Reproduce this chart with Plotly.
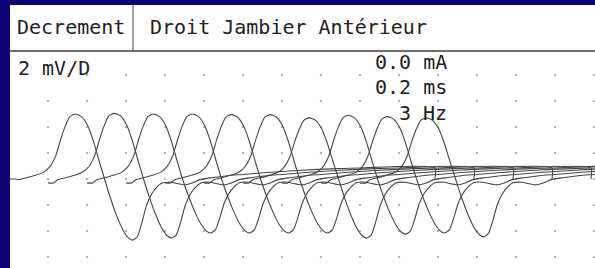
import plotly.graph_objects as go

# ---------------- data ----------------
# Units: x in divisions (sweep time), y in mV (2 mV per division)
# Shared CMAP waveform shape (relative to each sweep's onset)
TEMPLATE_T = [0.00, 0.15, 0.25, 0.45, 0.70, 0.90, 1.05, 1.20, 1.32, 1.44, 1.56, 1.70,
              1.86, 2.02, 2.16, 2.30, 2.45, 2.60, 2.76, 2.92, 3.05, 3.17, 3.29, 3.40,
              3.52, 3.64, 3.76, 3.92, 4.15, 4.50, 4.70, 4.90, 5.20, 5.60, 6.00, 6.60,
              7.20, 7.80, 8.40, 9.00, 10.92, 10.92]
TEMPLATE_MV = [-0.30, -0.30, -0.05, 0.10, 0.30, 0.55, 0.95, 1.80, 3.00, 4.05, 4.80, 5.00,
               4.80, 4.10, 2.95, 1.50, 0.00, -1.40, -2.70, -3.75, -4.30, -4.50, -4.25, -3.30,
               -2.00, -1.20, -0.70, -0.30, -0.25, -0.45, -0.30, -0.05, 0.10, 0.25, 0.35, 0.50,
               0.62, 0.72, 0.80, 0.85, 0.85, 0.00]
TEMPLATE_PEAK = 5.0
TEMPLATE_TROUGH = -4.5

# Ten successive responses (3 Hz train), each shifted by one division
ONSETS_DIV = [0, 1, 2, 3, 4, 5, 6, 7, 8, 9]
START_MV = [0.0, -0.30, -0.30, -0.30, -0.30, -0.30, -0.30, -0.30, -0.30, -0.30]
PEAKS_MV = [5.00, 5.05, 5.00, 5.00, 4.95, 4.95, 4.70, 4.90, 4.80, 4.70]
TROUGHS_MV = [-4.70, -4.55, -4.15, -4.15, -4.15, -4.15, -4.55, -4.25, -4.15, -4.45]

GRID_X_DIV = list(range(1, 16))
GRID_Y_MV = [-6, -4, -2, 0, 2, 4, 6, 8]

HEADER_LEFT = "Decrement"
HEADER_RIGHT = "Droit Jambier Antérieur"
GAIN_LABEL = "2 mV/D"
PARAM_LABELS = ["0.0 mA", "0.2 ms", "3 Hz"]

# ---------------- figure ----------------
W, H = 595, 268
ML, MT = 10, 5
PW, PH = W - ML, H - MT
PX_PER_DIV = 39.0
PX_PER_MV = 13.0
X0_PX = 9.0       # pixel of division 0
Y0_PX = 179.0     # pixel of 0 mV


def px_x(p):
    return (p - ML) / PW


def px_y(p):
    return (H - p) / PH


fig = go.Figure()

# dotted grid
gx, gy = [], []
for yv in GRID_Y_MV:
    for xv in GRID_X_DIV:
        gx.append(xv)
        gy.append(yv)
fig.add_trace(go.Scatter(x=gx, y=gy, mode="markers",
                         marker=dict(size=2.2, color="#a0a0a0", line=dict(width=0)),
                         hoverinfo="skip", showlegend=False))

# responses
for onset, st, pk, tr in zip(ONSETS_DIV, START_MV, PEAKS_MV, TROUGHS_MV):
    xs, ys = [], []
    for t, v in zip(TEMPLATE_T, TEMPLATE_MV):
        if t <= 0.15:
            v = st
        elif 0.9 <= t <= 2.45 and v > 0:
            v = v * pk / TEMPLATE_PEAK
        elif 2.45 < t <= 3.92 and v < 0:
            v = v * tr / TEMPLATE_TROUGH
        xs.append(onset + t)
        ys.append(v)
    fig.add_trace(go.Scatter(x=xs, y=ys, mode="lines",
                             line=dict(color="#474747", width=1.1, shape="spline", smoothing=0.6),
                             hoverinfo="skip", showlegend=False))

x_lo = (ML - X0_PX) / PX_PER_DIV
x_hi = x_lo + PW / PX_PER_DIV
y_hi = (Y0_PX - MT) / PX_PER_MV
y_lo = y_hi - PH / PX_PER_MV

shapes = [
    dict(type="line", xref="paper", yref="paper", x0=0, x1=1, y0=px_y(51), y1=px_y(51),
         line=dict(color="#6e6e6e", width=2)),
    dict(type="line", xref="paper", yref="paper", x0=px_x(133), x1=px_x(133),
         y0=px_y(51), y1=1, line=dict(color="#444444", width=1)),
]

FONT = dict(family="DejaVu Sans Mono", size=20, color="#222222")
annotations = [
    dict(text=HEADER_LEFT, x=px_x(16), y=px_y(27), xanchor="left", yanchor="middle"),
    dict(text=HEADER_RIGHT, x=px_x(149), y=px_y(27), xanchor="left", yanchor="middle"),
    dict(text=GAIN_LABEL, x=px_x(17), y=px_y(68), xanchor="left", yanchor="middle"),
]
for i, lab in enumerate(PARAM_LABELS):
    annotations.append(dict(text=lab, x=px_x(448), y=px_y(62 + 25.5 * i),
                            xanchor="right", yanchor="middle"))
for a in annotations:
    a.update(xref="paper", yref="paper", showarrow=False, font=FONT, borderpad=0)

fig.update_layout(
    width=W, height=H,
    margin=dict(l=ML, r=0, t=MT, b=0, pad=0),
    paper_bgcolor="#0c0470",
    plot_bgcolor="white",
    xaxis=dict(range=[x_lo, x_hi], visible=False, fixedrange=True),
    yaxis=dict(range=[y_lo, y_hi], visible=False, fixedrange=True),
    shapes=shapes,
    annotations=annotations,
    showlegend=False,
)

fig.write_html("out.html", config=dict(displayModeBar=False),
               post_script="document.body.style.margin='0';document.body.style.overflow='hidden';")
